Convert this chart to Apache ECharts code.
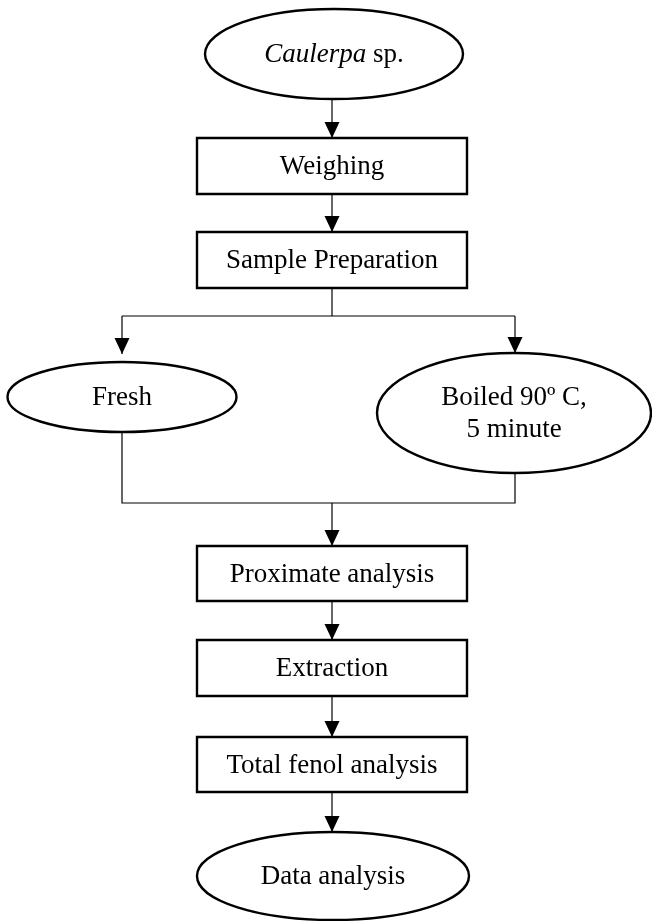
<!DOCTYPE html>
<html><head><meta charset="utf-8">
<script src="https://cdn.jsdelivr.net/npm/echarts@6/dist/echarts.min.js"></script>
<style>html,body{margin:0;padding:0;background:#fff}#c{width:652px;height:921px}</style>
</head><body><div id="c"></div>
<script>
// Flowchart content
const stepLabels = ['{i|Caulerpa}{n| sp.}', 'Weighing', 'Sample Preparation', 'Fresh',
  'Boiled 90º C,\n5 minute', 'Proximate analysis', 'Extraction', 'Total fenol analysis', 'Data analysis'];
const stepShapes = ['ellipse', 'rect', 'rect', 'ellipse', 'ellipse', 'rect', 'rect', 'rect', 'ellipse'];

// Layout (page units)
const stepX = [334, 332, 332, 122, 514, 332, 332, 332, 333];
const stepY = [54, 166, 260, 397, 413, 573.5, 668, 764.5, 876];
const stepW = [258, 270, 270, 229, 274, 270, 270, 270, 272];
const stepH = [90, 56, 56, 70, 120, 55, 56, 55, 88];

const linkPaths = [
  [[332, 99], [332, 138]],
  [[332, 194], [332, 232]],
  [[332, 288], [332, 316]],
  [[122, 316], [515, 316]],
  [[122, 316], [122, 354]],
  [[515, 316], [515, 353]],
  [[122, 432], [122, 503], [515, 503], [515, 473]],
  [[332, 503], [332, 546]],
  [[332, 601], [332, 640]],
  [[332, 696], [332, 737]],
  [[332, 792], [332, 832]]
];
const linkArrow = [true, true, false, false, true, true, false, true, true, true, true];

const FONT = '"Liberation Serif", "Times New Roman", serif';
const chart = echarts.init(document.getElementById('c'), null, {renderer: 'canvas'});

const nodeData = stepLabels.map((l, i) => [stepX[i], stepY[i], i]);
const linkData = linkPaths.map((p, i) => [p[0][0], p[0][1], i]);

chart.setOption({
  animation: false,
  backgroundColor: '#ffffff',
  grid: {left: 0, right: 0, top: 0, bottom: 0},
  xAxis: {type: 'value', min: 0, max: 652, show: false},
  yAxis: {type: 'value', min: 0, max: 921, inverse: true, show: false},
  series: [
    {
      type: 'custom', clip: false, data: linkData,
      renderItem: function (params, api) {
        const i = api.value(2);
        const pts = linkPaths[i].map(p => api.coord(p));
        const children = [{
          type: 'polyline', shape: {points: pts},
          style: {stroke: '#000', lineWidth: 1.2, fill: null}
        }];
        if (linkArrow[i]) {
          const end = pts[pts.length - 1];
          children.push({
            type: 'polygon',
            shape: {points: [[end[0] - 7.5, end[1] - 16], [end[0] + 7.5, end[1] - 16], [end[0], end[1]]]},
            style: {fill: '#000'}
          });
        }
        return {type: 'group', children: children};
      }
    },
    {
      type: 'custom', clip: false, data: nodeData,
      renderItem: function (params, api) {
        const i = api.value(2);
        const c = api.coord([stepX[i], stepY[i]]);
        const s = api.size([stepW[i], stepH[i]]);
        let shapeEl;
        if (stepShapes[i] === 'rect') {
          shapeEl = {type: 'rect', shape: {x: c[0] - s[0] / 2, y: c[1] - s[1] / 2, width: s[0], height: s[1]},
            style: {fill: '#fff', stroke: '#000', lineWidth: 2.4}};
        } else {
          shapeEl = {type: 'ellipse', shape: {cx: c[0], cy: c[1], rx: s[0] / 2, ry: s[1] / 2},
            style: {fill: '#fff', stroke: '#000', lineWidth: 2.4}};
        }
        const textEl = {
          type: 'text',
          style: {
            text: stepLabels[i], x: c[0], y: c[1] + 1, align: 'center', verticalAlign: 'middle',
            fontFamily: FONT, fontSize: 27, lineHeight: 32, fill: '#000',
            rich: {
              i: {fontFamily: FONT, fontSize: 27, fontStyle: 'italic', fill: '#000'},
              n: {fontFamily: FONT, fontSize: 27, fill: '#000'}
            }
          }
        };
        return {type: 'group', children: [shapeEl, textEl]};
      }
    }
  ]
});
</script>
</body></html>
